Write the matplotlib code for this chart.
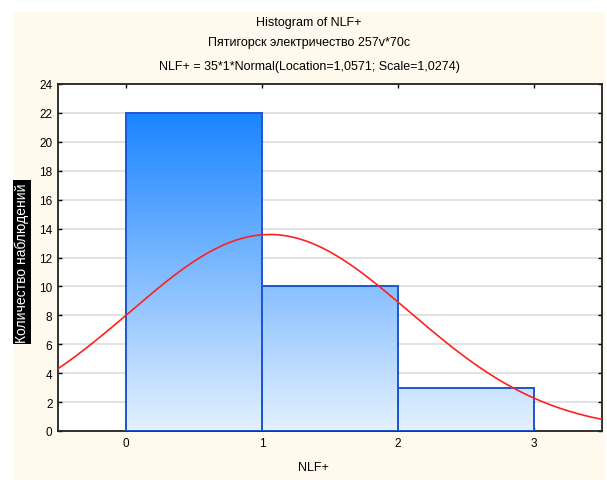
import numpy as np
import matplotlib
matplotlib.use("Agg")
import matplotlib.pyplot as plt
from matplotlib.patches import Rectangle
from matplotlib.colors import LinearSegmentedColormap

# histogram data
bin_edges = [0, 1, 2, 3]
counts = [22, 10, 3]

# fitted normal curve (from the chart subtitle)
n_obs = 35
bin_width = 1
location = 1.0571
scale = 1.0274

titles = ["Histogram of NLF+",
          "Пятигорск электричество 257v*70c",
          "NLF+ = 35*1*Normal(Location=1,0571; Scale=1,0274)"]
x_label = "NLF+"
y_label = "Количество наблюдений"

plt.rcParams['font.family'] = ['Liberation Sans', 'DejaVu Sans']
plt.rcParams['font.size'] = 9

fig = plt.figure(figsize=(6.07, 4.81), dpi=100)
fig.patch.set_facecolor("white")
fig.patches.append(Rectangle((13 / 607, 0), 592 / 607, 468 / 481,
                             transform=fig.transFigure, facecolor="#fffaee",
                             edgecolor="none", zorder=-10))

ax = fig.add_axes([58 / 607, 49 / 481, 544 / 607, 347 / 481])
ax.set_facecolor("white")
ax.set_xlim(-0.5, 3.5)
ax.set_ylim(0, 24)
ax.set_yticks(np.arange(0, 25, 2))
ax.set_xticks([0, 1, 2, 3])
ax.yaxis.grid(True, color="#dcdcdc", lw=1.2)
ax.set_axisbelow(True)
ax.tick_params(direction="in", length=3, width=1, top=True, right=True,
               labelsize=8.5, pad=4)
for s in ax.spines.values():
    s.set_linewidth(1.3)
    s.set_color("#222222")

cmap = LinearSegmentedColormap.from_list("bl", ["#e4f1ff", "#1a84ff"])
grad = np.linspace(0, 1, 256).reshape(-1, 1)
top = max(counts)
for i, c in enumerate(counts):
    x0, x1 = bin_edges[i], bin_edges[i + 1]
    bar = ax.bar(x0, c, width=x1 - x0, align="edge", facecolor="none",
                 edgecolor="#1c56d0", lw=1.4, zorder=3)[0]
    im = ax.imshow(grad, cmap=cmap, origin="lower", aspect="auto",
                   extent=(x0, x1, 0, top), zorder=2)
    im.set_clip_path(bar)

xs = np.linspace(-0.5, 3.5, 400)
pdf = n_obs * bin_width * np.exp(-0.5 * ((xs - location) / scale) ** 2) / (scale * np.sqrt(2 * np.pi))
ax.plot(xs, pdf, color="#ff2020", lw=1.2, zorder=4)
ax.set_xlim(-0.5, 3.5)
ax.set_ylim(0, 24)

for t, y in zip(titles, [23, 43, 67]):
    fig.text(309 / 607, 1 - y / 481, t, ha="center", va="center", fontsize=9)

fig.text(313 / 607, 1 - 468 / 481, x_label, ha="center", va="center", fontsize=9)
fig.text(22 / 607, 1 - 263 / 481, y_label, ha="center", va="center", rotation=90,
         fontsize=10, color="white",
         bbox=dict(boxstyle="square,pad=0.15", facecolor="black", edgecolor="none"))

fig.savefig("out.png", dpi=100, facecolor=fig.get_facecolor())
